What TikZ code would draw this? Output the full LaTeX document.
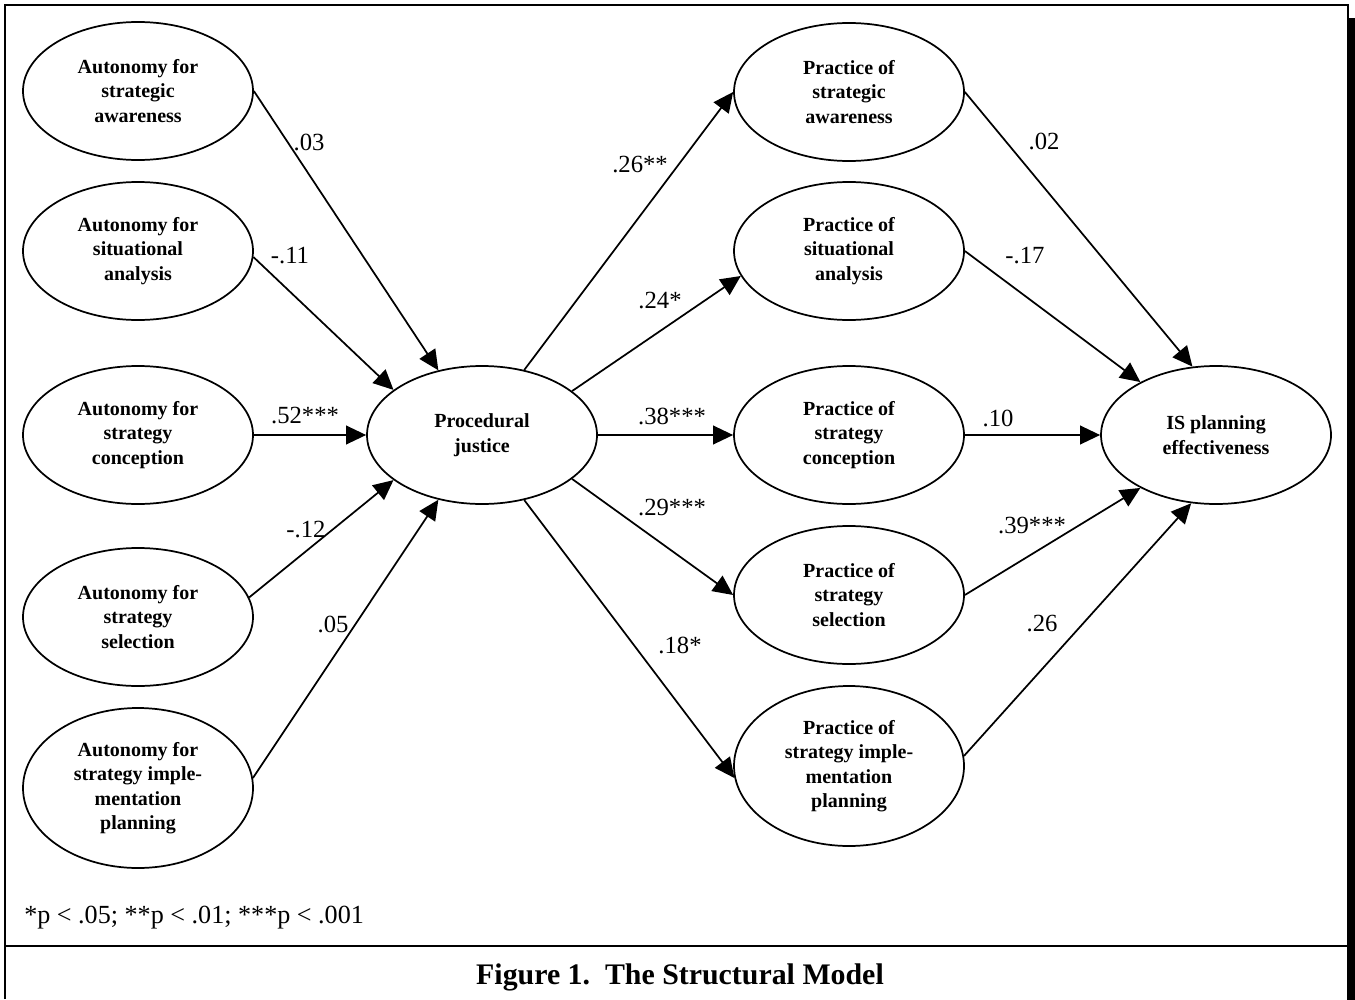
\documentclass[tikz,border=0pt]{standalone}
\usepackage{fontspec}
\setmainfont{Liberation Serif}
\usetikzlibrary{positioning,arrows.meta,shapes.geometric}

\tikzset{
  latent/.style={ellipse, draw, line width=1.3pt, inner sep=0pt,
    minimum width=172.5pt, minimum height=103.5pt, align=center,
    font=\bfseries\fontsize{15}{18.4}\selectfont},
  tall/.style={latent, minimum height=120pt},
  coef/.style={inner sep=0pt, font=\fontsize{18.5}{22}\selectfont},
  link/.style={-{Triangle[length=15pt,width=14pt]}, line width=1.3pt},
  frame/.style={line width=1.6pt}
}

\begin{document}
\begin{tikzpicture}[x=0.75pt,y=-0.75pt,on grid]
  \useasboundingbox (0,0) rectangle (1355,999);

  % frame with shadow
  \draw[frame] (5,999) -- (5,5) -- (1348,5) -- (1348,18);
  \fill (1347,18) rectangle (1357,1001);
  \draw[frame] (5,946) -- (1348,946);

  \node[latent] (pj) at (482,435) {Procedural\\justice};

  \node[latent] (l3) [left=258pt of pj] {Autonomy for\\strategy\\conception};
  \node[latent] (l1) [above=258pt of l3] {Autonomy for\\strategic\\awareness};
  \node[latent] (l2) [above=138pt of l3] {Autonomy for\\situational\\analysis};
  \node[latent] (l4) [below=136.5pt of l3] {Autonomy for\\strategy\\selection};
  \node[tall] (l5) [below=264.75pt of l3] {Autonomy for\\strategy imple-\\mentation\\planning};

  \node[latent] (r3) [right=275.25pt of pj] {Practice of\\strategy\\conception};
  \node[latent] (r1) [above=257.25pt of r3] {Practice of\\strategic\\awareness};
  \node[latent] (r2) [above=138pt of r3] {Practice of\\situational\\analysis};
  \node[latent] (r4) [below=120pt of r3] {Practice of\\strategy\\selection};
  \node[tall] (r5) [below=248.25pt of r3] {Practice of\\strategy imple-\\mentation\\planning};

  \node[latent] (is) [right=275.25pt of r3] {IS planning\\effectiveness};

  \path[link] (l1.east) edge (pj.124);
  \path[link] (l2.-3) edge (pj.153);
  \path[link] (l3.east) edge (pj.west);
  \path[link] (l4.10) edge (pj.207);
  \path[link] (l5.5) edge (pj.236);

  \path[link] (pj.57) edge (r1.west);
  \path[link] (pj.26) edge (r2.193);
  \path[link] (pj.east) edge (r3.west);
  \path[link] (pj.334) edge (r4.west);
  \path[link] (pj.303) edge (r5.186);

  \path[link] (r1.east) edge (is.109);
  \path[link] (r2.east) edge (is.145);
  \path[link] (r3.east) edge (is.west);
  \path[link] (r4.east) edge (is.215);
  \path[link] (r5.5) edge (is.250);

  % path coefficients
  \node[coef] (c1) at (309,142) {.03};
  \node[coef] (c2) at (290,256) {-.11};
  \node[coef] (c3) at (305,416) {.52***};
  \node[coef] (c4) at (306,530) {-.12};
  \node[coef] (c5) at (333,624) {.05};
  \node[coef] (p1) at (640,165) {.26**};
  \node[coef] (p2) at (660,301) {.24*};
  \node[coef] (p3) at (672,416) {.38***};
  \node[coef] (p4) at (672,508) {.29***};
  \node[coef] (p5) at (680,645) {.18*};
  \node[coef] (e1) at (1044,141) {.02};
  \node[coef] (e2) at (1025,256) {-.17};
  \node[coef] (e3) at (998,418) {.10};
  \node[coef] (e4) at (1032,526) {.39***};
  \node[coef] (e5) at (1042,623) {.26};

  \node[coef, anchor=base west, font=\fontsize{19.6}{23}\selectfont] (note) at (24,923)
    {*p < .05; **p < .01; ***p < .001};
  \node[anchor=base, font=\bfseries\fontsize{22.4}{26}\selectfont] (caption) at (680,984)
    {Figure 1.\ \ The Structural Model};

\end{tikzpicture}
\end{document}
